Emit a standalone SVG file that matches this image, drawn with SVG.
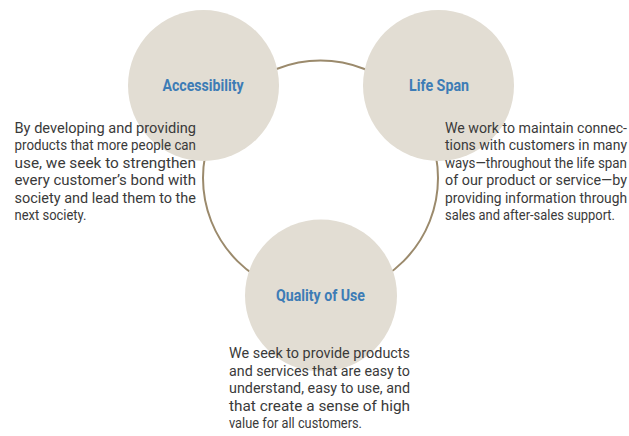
<svg xmlns="http://www.w3.org/2000/svg" width="629" height="436" viewBox="0 0 629 436">
<style>
.bg{fill:#ffffff}
.node{fill:#e2ddd3}
.ring{fill:none;stroke:#9b8a6c;stroke-width:2}
.title{font-family:"Roboto","Liberation Sans",sans-serif;font-size:17px;font-weight:bold;fill:#3d7cb6;text-anchor:middle}
.body{font-family:"Roboto","Liberation Sans",sans-serif;font-size:15.5px;fill:#3a3a3a}
.small{font-size:13.2px}
</style>
<rect class="bg" x="0" y="0" width="629" height="436"/>
<g id="connectors">
<circle class="ring" cx="320.5" cy="178" r="117.5"/>
</g>
<g id="node-accessibility">
<circle class="node" cx="203.5" cy="85.5" r="75.5"/>
<text class="title" x="203" y="91" textLength="81" lengthAdjust="spacingAndGlyphs">Accessibility</text>
</g>
<g id="node-lifespan">
<circle class="node" cx="438.5" cy="85.5" r="75.5"/>
<text class="title" x="439" y="91" textLength="60" lengthAdjust="spacingAndGlyphs">Life Span</text>
</g>
<g id="node-quality">
<circle class="node" cx="321" cy="295.5" r="76"/>
<text class="title" x="320.5" y="301" textLength="89" lengthAdjust="spacingAndGlyphs">Quality of Use</text>
</g>
<g id="text-accessibility" class="body">
<text x="14.5" y="132.5" textLength="181.5" lengthAdjust="spacingAndGlyphs">By developing and providing</text>
<text x="14.5" y="150" textLength="181.5" lengthAdjust="spacingAndGlyphs">products that more people can</text>
<text x="14.5" y="167.5" textLength="181.5" lengthAdjust="spacingAndGlyphs">use, we seek to strengthen</text>
<text x="14.5" y="185" textLength="181.5" lengthAdjust="spacingAndGlyphs">every customer’s bond with</text>
<text x="14.5" y="202.5" textLength="181.5" lengthAdjust="spacingAndGlyphs">society and lead them to the</text>
<text x="14.5" y="220" textLength="72" lengthAdjust="spacingAndGlyphs">next society.</text>
</g>
<g id="text-lifespan" class="body small">
<text transform="translate(445 132.5) scale(1 1.174)" x="0" y="0" textLength="182" lengthAdjust="spacingAndGlyphs">We work to maintain connec-</text>
<text transform="translate(445 150) scale(1 1.174)" x="0" y="0" textLength="182" lengthAdjust="spacingAndGlyphs">tions with customers in many</text>
<text transform="translate(445 167.5) scale(1 1.174)" x="0" y="0" textLength="182" lengthAdjust="spacingAndGlyphs">ways—throughout the life span</text>
<text transform="translate(445 185) scale(1 1.174)" x="0" y="0" textLength="182" lengthAdjust="spacingAndGlyphs">of our product or service—by</text>
<text transform="translate(445 202.5) scale(1 1.174)" x="0" y="0" textLength="182" lengthAdjust="spacingAndGlyphs">providing information through</text>
<text transform="translate(445 220) scale(1 1.174)" x="0" y="0" textLength="170" lengthAdjust="spacingAndGlyphs">sales and after-sales support.</text>
</g>
<g id="text-quality" class="body">
<text x="229" y="358" textLength="181" lengthAdjust="spacingAndGlyphs">We seek to provide products</text>
<text x="229" y="375.5" textLength="181" lengthAdjust="spacingAndGlyphs">and services that are easy to</text>
<text x="229" y="393" textLength="181" lengthAdjust="spacingAndGlyphs">understand, easy to use, and</text>
<text x="229" y="410.5" textLength="181" lengthAdjust="spacingAndGlyphs">that create a sense of high</text>
<text x="229" y="428" textLength="133" lengthAdjust="spacingAndGlyphs">value for all customers.</text>
</g>
</svg>
